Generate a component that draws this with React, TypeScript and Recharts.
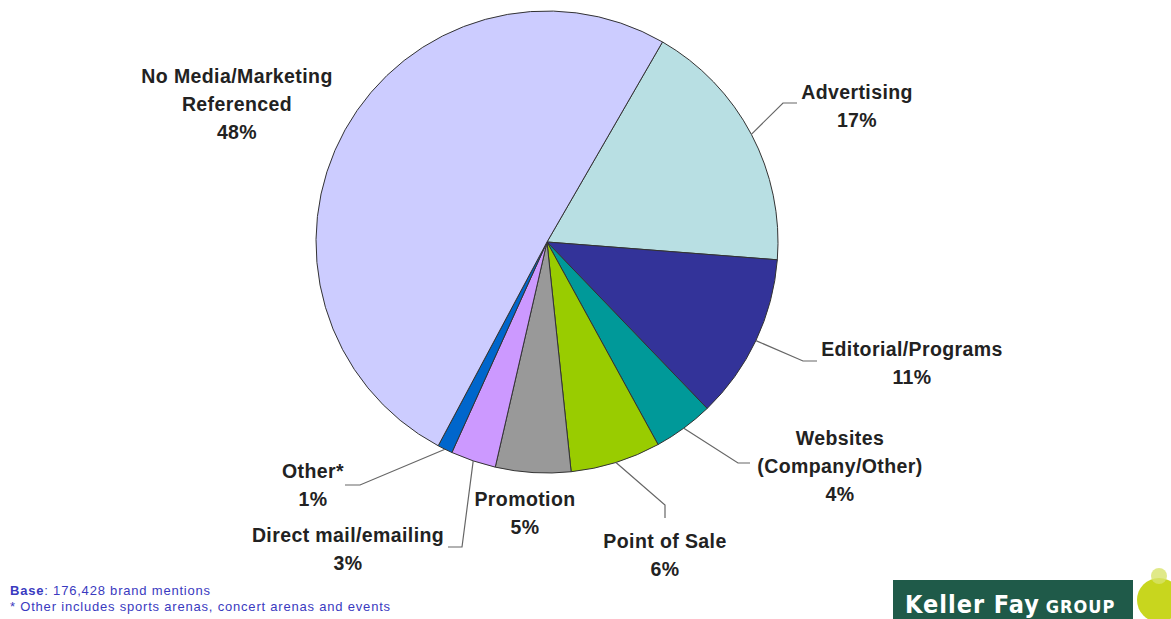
import { PieChart, Pie, Cell } from 'recharts';

// categories in drawing order (clockwise from the Advertising slice)
const categories = [
  'Advertising',
  'Editorial/Programs',
  'Websites\n(Company/Other)',
  'Point of Sale',
  'Promotion',
  'Direct mail/emailing',
  'Other*',
  'No Media/Marketing\nReferenced',
];
const shares = [17, 11, 4, 6, 5, 3, 1, 48];
const colors = ['#B8DFE3', '#333399', '#009999', '#99CC00', '#999999', '#CC99FF', '#0066CC', '#CCCCFF'];

const footBase = '176,428 brand mentions';
const footNote = '* Other includes sports arenas, concert arenas and events';

const data = categories.map((name, i) => ({ name, value: shares[i] }));

// label placement, offsets from the pie centre: text centre x, first line y, leader elbow and end
const labelLayout = [
  { tx: 310, ty: -150, line: [[236, -139], [250, -139]] },
  { tx: 365, ty: 107, line: [[256, 119], [270, 119]] },
  { tx: 293, ty: 196, line: [[191, 221], [203, 221]] },
  { tx: 118, ty: 299, line: [[118, 263], [118, 276]] },
  { tx: -22, ty: 257, line: null },
  { tx: -199, ty: 293, line: [[-85, 305], [-99, 305]] },
  { tx: -234, ty: 229, line: [[-187, 243], [-202, 243]] },
  { tx: -310, ty: -166, line: null },
];

const RAD = Math.PI / 180;

function renderLabel(props: any) {
  const { cx, cy, midAngle, outerRadius, index, value, name } = props;
  const lay = labelLayout[index];
  const lines = String(name).split('\n').concat(`${value}%`);
  const sx = cx + outerRadius * Math.cos(-midAngle * RAD);
  const sy = cy + outerRadius * Math.sin(-midAngle * RAD);
  return (
    <g key={`lbl-${index}`}>
      {lay.line && (
        <polyline
          points={[[sx - cx, sy - cy], ...lay.line].map(([x, y]) => `${cx + x},${cy + y}`).join(' ')}
          fill="none"
          stroke="#666"
          strokeWidth={1.2}
        />
      )}
      <text
        x={cx + lay.tx}
        y={cy + lay.ty}
        textAnchor="middle"
        fontFamily="'Liberation Sans', Arial, sans-serif"
        fontWeight="bold"
        fontSize={19.5}
        letterSpacing={0.4}
        fill="#222"
      >
        {lines.map((l, k) => (
          <tspan key={k} x={cx + lay.tx} dy={k === 0 ? 7 : 28}>
            {l}
          </tspan>
        ))}
      </text>
    </g>
  );
}

export default function App() {
  return (
    <div style={{ position: 'absolute', left: 0, top: 0, width: 1171, height: 619, background: '#fff', overflow: 'hidden' }}>
      <PieChart width={1171} height={619} margin={{ top: 0, right: 0, bottom: 0, left: 0 }}>
        <Pie
          data={data}
          dataKey="value"
          nameKey="name"
          cx={547}
          cy={242}
          outerRadius={231}
          startAngle={60}
          endAngle={-300}
          stroke="#333"
          strokeWidth={1}
          label={renderLabel}
          labelLine={false}
          isAnimationActive={false}
        >
          {data.map((d, i) => (
            <Cell key={d.name} fill={colors[i]} />
          ))}
        </Pie>
      </PieChart>
      <div
        style={{
          position: 'absolute',
          left: 10,
          top: 583,
          fontFamily: "'Liberation Sans', Arial, sans-serif",
          fontSize: 13,
          letterSpacing: 0.8,
          lineHeight: '16px',
          color: '#3a3ac0',
        }}
      >
        <div>
          <b>Base</b>: {footBase}
        </div>
        <div>{footNote}</div>
      </div>
      <svg style={{ position: 'absolute', left: 880, top: 560 }} width={291} height={59}>
        <rect x={13} y={20} width={240} height={39} fill="#1F5A49" />
        <text x={25} y={53} fill="#fff" fontFamily="'Liberation Sans Narrow', 'DejaVu Sans Condensed', sans-serif" fontWeight="bold" fontSize={25} letterSpacing={1}>
          Keller Fay
          <tspan fontSize={18} dx={6}>GROUP</tspan>
        </text>
        <rect x={253} y={20} width={38} height={39} fill="#fff" />
        <circle cx={279} cy={40} r={22} fill="#C8D61E" />
        <circle cx={279} cy={16} r={8} fill="#D8E36A" opacity={0.8} />
      </svg>
    </div>
  );
}
